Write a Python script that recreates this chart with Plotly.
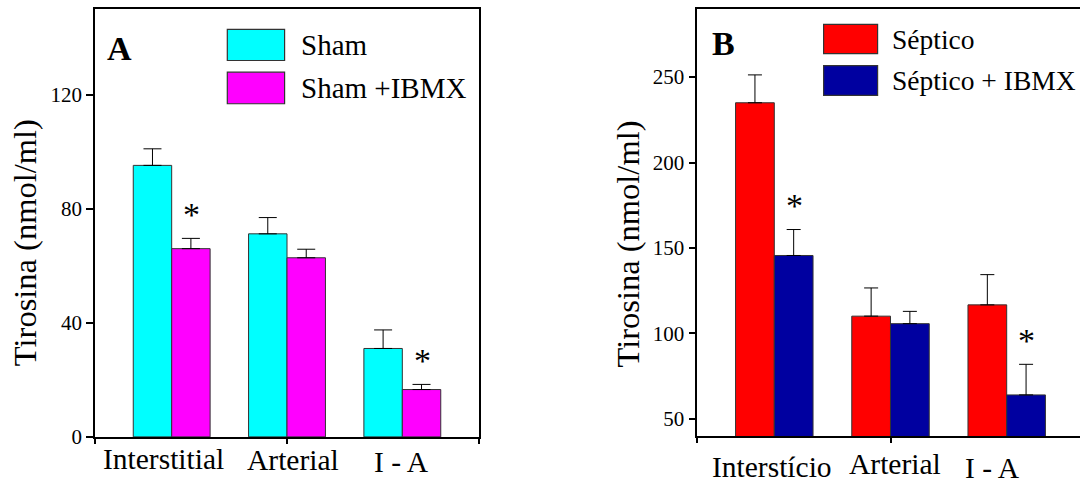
import plotly.graph_objects as go

# ---------------- data ----------------
categories_a = ["Interstitial", "Arterial", "I - A"]
sham = [95.2, 71.2, 31.0]
sham_err = [5.8, 5.7, 6.5]
sham_ibmx = [66.0, 62.8, 16.6]
sham_ibmx_err = [3.6, 3.0, 1.8]
sig_a = [True, False, True]

categories_b = ["Interstício", "Arterial", "I - A"]
septico = [235.0, 110.1, 116.7]
septico_err = [16.3, 16.5, 17.7]
septico_ibmx = [145.6, 105.7, 64.0]
septico_ibmx_err = [15.2, 7.2, 17.9]
sig_b = [True, False, True]

legend_a = ["Sham", "Sham +IBMX"]
legend_b = ["Séptico", "Séptico + IBMX"]
yticks_a = [0, 40, 80, 120]
yticks_b = [50, 100, 150, 200, 250]

# ---------------- layout helpers ----------------
W, H = 1080, 497
FONT = "Liberation Serif"
def px(x):
    return x / W
def py(y):
    return 1 - y / H

CYAN, MAGENTA, RED, BLUE = "#00FFFF", "#FF00FF", "#FF0000", "#0000A0"
EDGE = "#333333"

fig = go.Figure()

def bar(xs, ys, err, color, name, xa, ya, capw):
    return go.Bar(
        x=xs, y=ys, name=name, xaxis=xa, yaxis=ya, showlegend=False,
        marker=dict(color=color, line=dict(color=EDGE, width=1)),
        error_y=dict(type="data", symmetric=False, array=err,
                     arrayminus=[0] * len(err), color="black",
                     thickness=1, width=capw),
    )

idx_a = list(range(len(categories_a)))
idx_b = list(range(len(categories_b)))
fig.add_trace(bar(idx_a, sham, sham_err, CYAN, legend_a[0], "x", "y", 9))
fig.add_trace(bar(idx_a, sham_ibmx, sham_ibmx_err, MAGENTA, legend_a[1], "x", "y", 9))
fig.add_trace(bar(idx_b, septico, septico_err, RED, legend_b[0], "x2", "y2", 7))
fig.add_trace(bar(idx_b, septico_ibmx, septico_ibmx_err, BLUE, legend_b[1], "x2", "y2", 7))

xr_a = [-0.665, 2.665]
xr_b = [-0.6627, 2.6308]

axis_common = dict(showline=True, linecolor="black", linewidth=1.5,
                   showgrid=False, zeroline=False, ticks="outside",
                   tickcolor="black", tickwidth=1.5,
                   tickfont=dict(family=FONT, size=21, color="black"))

fig.update_layout(
    width=W, height=H, margin=dict(l=0, r=0, t=0, b=0),
    paper_bgcolor="white", plot_bgcolor="white",
    font=dict(family=FONT, color="black"),
    barmode="group", bargap=1/3, bargroupgap=0,
    xaxis=dict(axis_common, domain=[px(95), px(479)], range=xr_a,
               tickvals=[xr_a[0], 1, xr_a[1]], showticklabels=False,
               ticklen=5, mirror=True, anchor="y"),
    yaxis=dict(axis_common, domain=[py(447.7), py(9.3)], range=[0, 150],
               tickvals=yticks_a, ticklen=7, mirror=True, anchor="x"),
    xaxis2=dict(axis_common, domain=[px(697.3), 1.0], range=xr_b,
                tickvals=[xr_b[0], 1], showticklabels=False,
                ticklen=5, mirror=True, anchor="y2"),
    yaxis2=dict(axis_common, domain=[py(446.7), py(9.0)], range=[40, 290],
                tickvals=yticks_b, ticklen=7, mirror=False, anchor="x2"),
)

ann = []
def text(x, y, s, size, xanchor="left", bold=False, angle=0, xref="paper", yref="paper", xshift=0, yshift=0):
    ann.append(dict(x=x, y=y, xref=xref, yref=yref, text=f"<b>{s}</b>" if bold else s,
                    showarrow=False, xanchor=xanchor, yanchor="middle",
                    textangle=angle, xshift=xshift, yshift=yshift,
                    font=dict(family=FONT, size=size, color="black")))

# y titles
text(px(25), py(249.2), "Tirosina (nmol/ml)", 32.5, xanchor="center", angle=-90)
text(px(627.6), py(250), "Tirosina (nmol/ml)", 32.5, xanchor="center", angle=-90)

# panel letters
text(px(104.7), py(49.2), "A", 34, bold=True)
text(px(709.7), py(45), "B", 34, bold=True)

# category labels
shift_a = [-8, 5.7, -0.6]
ylab_a = [470, 471.5, 473]
for i, c in enumerate(categories_a):
    text(i, py(ylab_a[i]), c, 29.5, xanchor="center", xref="x", xshift=shift_a[i])
shift_b = [-2.6, 4.8, -14.2]
ylab_b = [479, 475, 479.5]
for i, c in enumerate(categories_b):
    text(i, py(ylab_b[i]), c, 29.5, xanchor="center", xref="x2", xshift=shift_b[i])

# significance asterisks
for i, s in enumerate(sig_a):
    if s:
        text(i, sham_ibmx[i] + sham_ibmx_err[i], "*", 34, xanchor="center",
             xref="x", yref="y", xshift=20, yshift=24)
for i, s in enumerate(sig_b):
    if s:
        text(i, septico_ibmx[i] + septico_ibmx_err[i], "*", 34, xanchor="center",
             xref="x2", yref="y2", xshift=20, yshift=24)

# legends (drawn manually for the large swatches)
shapes = []
def swatch(x0, x1, y0, y1, color):
    shapes.append(dict(type="rect", xref="paper", yref="paper",
                       x0=px(x0), x1=px(x1), y0=py(y1), y1=py(y0),
                       fillcolor=color, line=dict(color=EDGE, width=1.2)))

swatch(227.3, 284.6, 30, 62, CYAN)
swatch(227.3, 284.6, 74, 106.3, MAGENTA)
text(px(298.8), py(46), legend_a[0], 29)
text(px(298.8), py(90), legend_a[1], 29)

swatch(823.6, 877.6, 25, 55, RED)
swatch(823.6, 877.6, 67.3, 97.7, BLUE)
text(px(890.4), py(40), legend_b[0], 27.5)
text(px(890.4), py(82.5), legend_b[1], 27.5)

fig.update_layout(annotations=ann, shapes=shapes)
fig.write_html("out.html")
